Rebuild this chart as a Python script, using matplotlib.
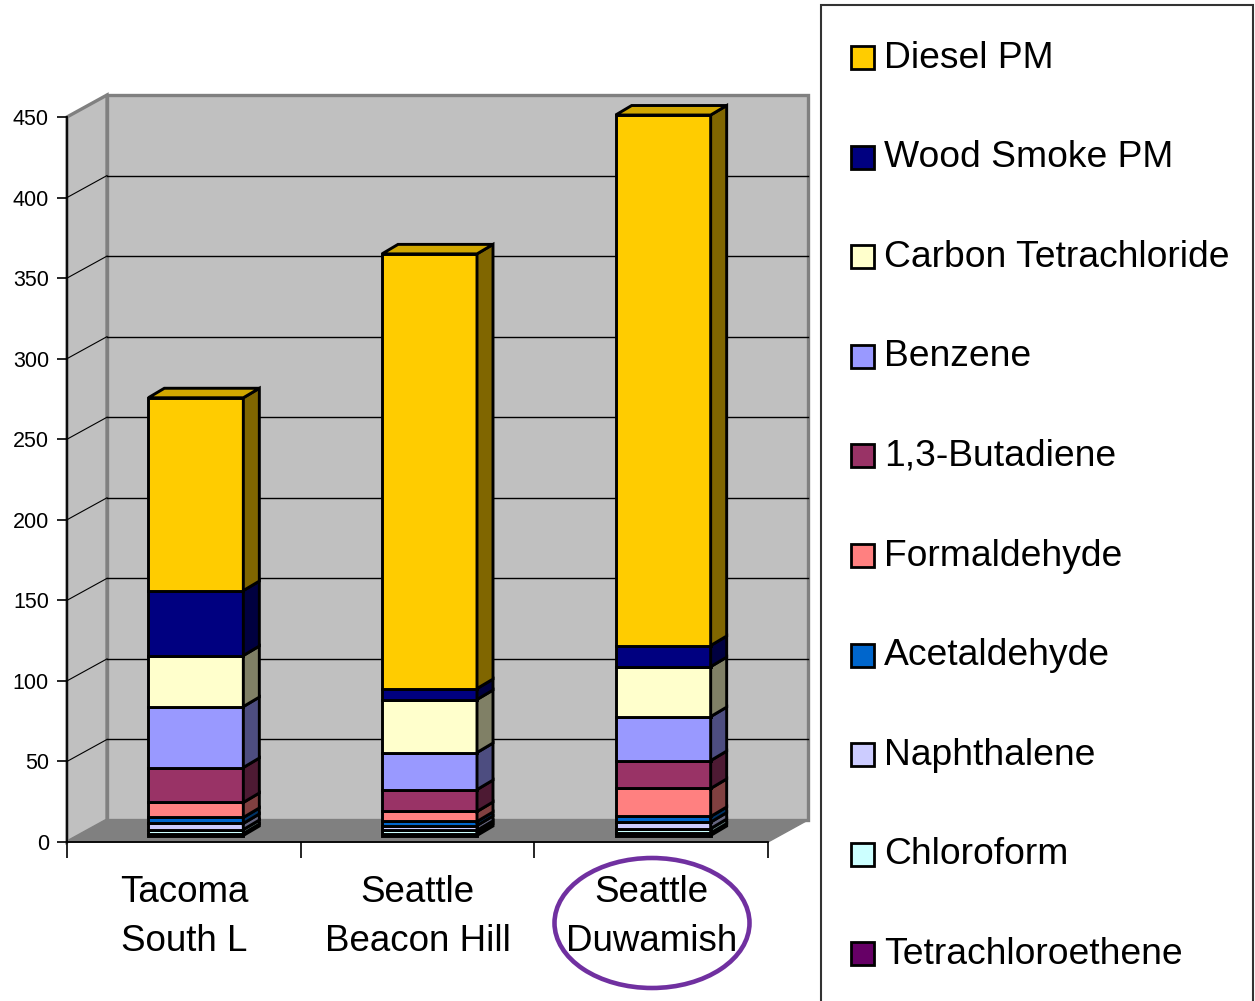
import matplotlib
matplotlib.use("Agg")
import matplotlib.pyplot as plt
from matplotlib.patches import Polygon, Rectangle, Ellipse
from matplotlib.transforms import ScaledTranslation
import matplotlib.colors as mcolors
import numpy as np

plt.rcParams['font.family'] = ['Liberation Sans', 'DejaVu Sans']

# ---------------- data ----------------
sites = ["Tacoma\nSouth L", "Seattle\nBeacon Hill", "Seattle\nDuwamish"]
legend_order = ["Diesel PM", "Wood Smoke PM", "Carbon Tetrachloride", "Benzene",
                "1,3-Butadiene", "Formaldehyde", "Acetaldehyde", "Naphthalene",
                "Chloroform", "Tetrachloroethene"]
diesel_pm = [119.7, 269.8, 329.3]
wood_smoke_pm = [40.3, 6.8, 13.1]
carbon_tetrachloride = [31.7, 32.9, 31.0]
benzene = [37.8, 23.0, 27.3]
butadiene = [21.7, 13.6, 17.3]
formaldehyde = [9.3, 6.2, 17.4]
acetaldehyde = [3.7, 2.5, 3.5]
naphthalene = [3.8, 3.0, 4.0]
chloroform = [2.5, 2.0, 2.8]
tetrachloroethene = [1.2, 1.2, 1.5]
yticks = [0, 50, 100, 150, 200, 250, 300, 350, 400, 450]

series = {
    "Diesel PM": diesel_pm,
    "Wood Smoke PM": wood_smoke_pm,
    "Carbon Tetrachloride": carbon_tetrachloride,
    "Benzene": benzene,
    "1,3-Butadiene": butadiene,
    "Formaldehyde": formaldehyde,
    "Acetaldehyde": acetaldehyde,
    "Naphthalene": naphthalene,
    "Chloroform": chloroform,
    "Tetrachloroethene": tetrachloroethene,
}
colors = {
    "Diesel PM": "#FFCC00",
    "Wood Smoke PM": "#000080",
    "Carbon Tetrachloride": "#FFFFCC",
    "Benzene": "#9999FF",
    "1,3-Butadiene": "#993366",
    "Formaldehyde": "#FF8080",
    "Acetaldehyde": "#0066CC",
    "Naphthalene": "#CCCCFF",
    "Chloroform": "#CCFFFF",
    "Tetrachloroethene": "#660066",
}

def shade(c, f):
    r, g, b = mcolors.to_rgb(c)
    return (r * f, g * f, b * f)

# ---------------- figure ----------------
W, H = 1255, 1001
fig = plt.figure(figsize=(W / 100, H / 100), dpi=100)
fig.patch.set_facecolor("white")

ax_l, ax_r, ax_b, ax_t = 67, 768, 842, 117
ax = fig.add_axes([ax_l / W, (H - ax_b) / H, (ax_r - ax_l) / W, (ax_b - ax_t) / H])
ax.set_xlim(-0.5, 2.5)
ax.set_ylim(0, 450)
ax.patch.set_visible(False)

px_x = 3.0 / (ax_r - ax_l)
px_y = 450.0 / (ax_b - ax_t)

# walls
wdx, wdy = 40 * px_x, 22 * px_y
back = Rectangle((-0.5 + wdx, wdy), 3.0, 450, facecolor="#C0C0C0",
                 edgecolor="#808080", lw=2.4, clip_on=False, zorder=0)
ax.add_patch(back)
left = Polygon([(-0.5, 0), (-0.5 + wdx, wdy), (-0.5 + wdx, 450 + wdy), (-0.5, 450)],
               closed=True, facecolor="#C0C0C0", edgecolor="#808080", lw=2.4,
               clip_on=False, zorder=0)
ax.add_patch(left)
floor = Polygon([(-0.5, 0), (2.5, 0), (2.5 + wdx, wdy), (-0.5 + wdx, wdy)],
                closed=True, facecolor="#808080", edgecolor="#808080", lw=1,
                clip_on=False, zorder=0.5)
ax.add_patch(floor)
for y in yticks[1:-1]:
    ax.plot([-0.5 + wdx, 2.5 + wdx], [y + wdy, y + wdy], color="black", lw=1.0,
            clip_on=False, zorder=1)
    ax.plot([-0.5, -0.5 + wdx], [y, y + wdy], color="black", lw=0.8,
            clip_on=False, zorder=1)

# bars
shift = ax.transData + ScaledTranslation(12 / 100, 6.5 / 100, fig.dpi_scale_trans)
bdx, bdy = 16 * px_x, 9.5 * px_y
bw = 95 * px_x
stack_order = legend_order[::-1]
ec = "black"
elw = 2.1
for i in range(len(sites)):
    bottom = 0.0
    xl, xr = i - bw / 2, i + bw / 2
    for k, name in enumerate(stack_order):
        v = series[name][i]
        c = colors[name]
        ax.bar(i, v, bw, bottom=bottom, color=c, edgecolor=ec, lw=elw,
               transform=shift, clip_on=False, zorder=3, joinstyle="miter")
        side = Polygon([(xr, bottom), (xr + bdx, bottom + bdy),
                        (xr + bdx, bottom + v + bdy), (xr, bottom + v)],
                       closed=True, facecolor=shade(c, 0.5), edgecolor=ec, lw=elw,
                       transform=shift, clip_on=False, zorder=3, joinstyle="miter")
        ax.add_patch(side)
        bottom += v
        if k == len(stack_order) - 1:
            top = Polygon([(xl, bottom), (xr, bottom), (xr + bdx, bottom + bdy),
                           (xl + bdx, bottom + bdy)], closed=True,
                          facecolor=shade(c, 0.82), edgecolor=ec, lw=elw,
                          transform=shift, clip_on=False, zorder=3, joinstyle="miter")
            ax.add_patch(top)

# axes styling
for s in ["top", "right"]:
    ax.spines[s].set_visible(False)
ax.spines["left"].set_color("black")
ax.spines["bottom"].set_color("black")
ax.spines["left"].set_linewidth(1.3)
ax.spines["bottom"].set_linewidth(1.3)
ax.spines["left"].set_zorder(4)
ax.spines["bottom"].set_zorder(4)

ax.set_yticks(yticks)
ax.set_yticklabels([str(t) for t in yticks])
ax.tick_params(axis="y", length=7, width=1.2, pad=6, labelsize=15.5, colors="black")

ax.set_xticks([-0.5, 0.5, 1.5, 2.5])
ax.set_xticklabels([])
ax.tick_params(axis="x", which="major", length=11.5, width=1.2, direction="out")
ax.set_xticks([0, 1, 2], minor=True)
ax.set_xticklabels(sites, minor=True, fontsize=26.5, linespacing=1.5)
ax.tick_params(axis="x", which="minor", length=0, pad=24)

# legend (manual)
box = Rectangle((821 / W, -0.02), (1253 - 821) / W, (H - 5) / H + 0.02,
                transform=fig.transFigure, facecolor="white", edgecolor="#333333",
                lw=1.5, zorder=0)
fig.patches.append(box)
y0, dy = 57, 99.6
for k, name in enumerate(legend_order):
    yc = y0 + k * dy
    sq = Rectangle((851 / W, 1 - (yc + 12) / H), 23 / W, 23 / H,
                   transform=fig.transFigure, facecolor=colors[name],
                   edgecolor="black", lw=2.0, zorder=2)
    fig.patches.append(sq)
    fig.text(884 / W, 1 - (yc + 1) / H, name, fontsize=26.8, va="center", ha="left",
             color="black")

# highlight ellipse
ell = Ellipse((652 / W, 1 - 923 / H), 195 / W, 130 / H, transform=fig.transFigure,
              fill=False, edgecolor="#7030A0", lw=3.3, zorder=5)
fig.patches.append(ell)

fig.savefig("out.png", dpi=100)
